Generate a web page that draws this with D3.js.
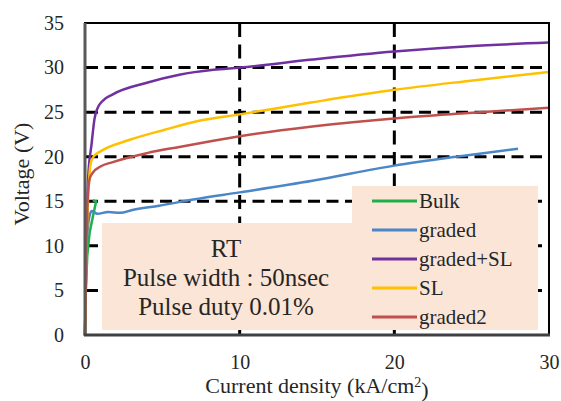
<!DOCTYPE html>
<html>
<head>
<meta charset="utf-8">
<script src="https://cdn.jsdelivr.net/npm/d3@7"></script>
</head>
<body style="margin:0; background:#fff">
<div id="chart"></div>
<script>
// Series data: [current density kA/cm2, voltage V]
var bulk = [[0,0],[0.05,5],[0.15,9],[0.3,11.5],[0.5,13.2],[0.72,15],[0.5,15.1]];
var graded = [[0,0],[0.1,10],[0.3,13.4],[0.45,13.9],[0.8,13.6],[1.5,13.8],[2.3,13.7],[3,14],[4.8,14.5],[7,15.2],[10,16],[14.7,17.3],[20,19],[24,20],[28,20.9]];
var gradedSL = [[0,0],[0.1,10],[0.2,17.5],[0.43,21.5],[0.62,24.3],[0.8,25.4],[1.1,26.2],[1.8,27],[4,28.3],[6.1,29.2],[8.3,29.75],[10,30],[14.7,30.9],[20,31.8],[24.8,32.4],[30,32.8]];
var sl = [[0,0],[0.1,10],[0.25,17],[0.4,19.5],[0.6,20.1],[1,20.6],[2.9,21.9],[5.1,23],[7.3,24],[10,24.75],[14.7,26.1],[20,27.5],[24.8,28.5],[30,29.5]];
var graded2 = [[0,0],[0.08,9],[0.18,15.5],[0.3,17.5],[0.5,18.2],[1,18.9],[1.8,19.4],[4,20.4],[6.1,21.1],[8.3,21.8],[10,22.3],[14.7,23.4],[20,24.3],[24.8,24.9],[30,25.5]];

var names = ['Bulk', 'graded', 'graded+SL', 'SL', 'graded2'];
var colors = ['#1fb04a', '#4a86c8', '#7030a0', '#ffc000', '#c0504d'];
var series = [bulk, graded, gradedSL, sl, graded2];

var xTicks = [0, 10, 20, 30];
var yTicks = [0, 5, 10, 15, 20, 25, 30, 35];
var xGrid = [10, 20];
var yGrid = [5, 10, 15, 20, 25, 30];
var note = ['RT', 'Pulse width : 50nsec', 'Pulse duty 0.01%'];

var width = 561;
var height = 401;
var serif = 'Liberation Serif';
var ink = '#262626';

var svg = d3.select('#chart').append('svg')
  .attr('width', width)
  .attr('height', height)
  .attr('font-family', serif);

var x = d3.scaleLinear().domain([0, 30]).range([85, 549]);
var y = d3.scaleLinear().domain([0, 35]).range([335, 23]);

// dashed grid
svg.append('g').selectAll('line')
  .data(yGrid)
  .enter().append('line')
  .attr('x1', x(0) + 1).attr('x2', x(30) - 4)
  .attr('y1', function(d) { return y(d); })
  .attr('y2', function(d) { return y(d); })
  .attr('stroke', '#000').attr('stroke-width', 3)
  .attr('stroke-dasharray', '12,6.5');

svg.append('g').selectAll('line')
  .data(xGrid)
  .enter().append('line')
  .attr('x1', function(d) { return x(d); })
  .attr('x2', function(d) { return x(d); })
  .attr('y1', y(35)).attr('y2', y(0))
  .attr('stroke', '#000').attr('stroke-width', 3)
  .attr('stroke-dasharray', '14,7.5');

// annotation boxes
svg.append('rect')
  .attr('x', 102).attr('y', 223).attr('width', 250).attr('height', 107)
  .attr('fill', '#fbe5d6');
svg.append('rect')
  .attr('x', 352).attr('y', 186).attr('width', 186).attr('height', 144)
  .attr('fill', '#fbe5d6');

svg.append('g').selectAll('text')
  .data(note)
  .enter().append('text')
  .attr('x', 226)
  .attr('y', function(d, i) { return 257 + i * 29; })
  .attr('text-anchor', 'middle')
  .attr('font-family', serif)
  .attr('font-size', 25)
  .attr('fill', ink)
  .text(function(d) { return d; });

// curves
var line = d3.line()
  .x(function(d) { return x(d[0]); })
  .y(function(d) { return y(d[1]); });

svg.append('g').selectAll('path')
  .data(series)
  .enter().append('path')
  .attr('d', function(d, i) { return i === 0 ? line.curve(d3.curveLinear)(d) : line.curve(d3.curveMonotoneX)(d); })
  .attr('fill', 'none')
  .attr('stroke', function(d, i) { return colors[i]; })
  .attr('stroke-width', 2.5);

// legend
var legend = svg.append('g').selectAll('g')
  .data(names)
  .enter().append('g')
  .attr('transform', function(d, i) { return 'translate(372,' + (201 + i * 29) + ')'; });
legend.append('line')
  .attr('x1', 0).attr('x2', 45)
  .attr('stroke', function(d, i) { return colors[i]; })
  .attr('stroke-width', 3);
legend.append('text')
  .attr('x', 47).attr('dy', '0.33em')
  .attr('font-family', serif)
  .attr('font-size', 21)
  .attr('fill', ink)
  .text(function(d) { return d; });

// frame
svg.append('rect')
  .attr('x', x(0)).attr('y', y(35))
  .attr('width', x(30) - x(0)).attr('height', y(0) - y(35))
  .attr('fill', 'none').attr('stroke', '#000').attr('stroke-width', 2);
svg.append('line')
  .attr('x1', x(0)).attr('x2', x(0)).attr('y1', y(35)).attr('y2', y(0) + 1)
  .attr('stroke', '#595959').attr('stroke-width', 3);
svg.append('line')
  .attr('x1', x(0) - 1).attr('x2', x(30) + 1).attr('y1', y(0)).attr('y2', y(0))
  .attr('stroke', '#404040').attr('stroke-width', 3);

// axes
var yAxis = svg.append('g')
  .attr('transform', 'translate(' + x(0) + ',0)')
  .call(d3.axisLeft(y).tickValues(yTicks).tickSize(0).tickPadding(21));
var xAxis = svg.append('g')
  .attr('transform', 'translate(0,' + y(0) + ')')
  .call(d3.axisBottom(x).tickValues(xTicks).tickSize(0).tickPadding(20));
svg.selectAll('.domain').remove();
svg.selectAll('.tick text')
  .attr('font-family', serif)
  .attr('font-size', 20)
  .attr('fill', ink);

// axis titles
var xt = svg.append('text')
  .attr('x', 317).attr('y', 393)
  .attr('text-anchor', 'middle')
  .attr('font-family', serif)
  .attr('font-size', 22)
  .attr('fill', ink);
xt.append('tspan').text('Current density (kA/cm');
xt.append('tspan').attr('dy', '-0.45em').attr('font-size', 14).text('2');
xt.append('tspan').attr('dy', '0.45em').text(')');

svg.append('text')
  .attr('transform', 'translate(29,174) rotate(-90)')
  .attr('text-anchor', 'middle')
  .attr('font-family', serif)
  .attr('font-size', 22)
  .attr('fill', ink)
  .text('Voltage (V)');
</script>
</body>
</html>
